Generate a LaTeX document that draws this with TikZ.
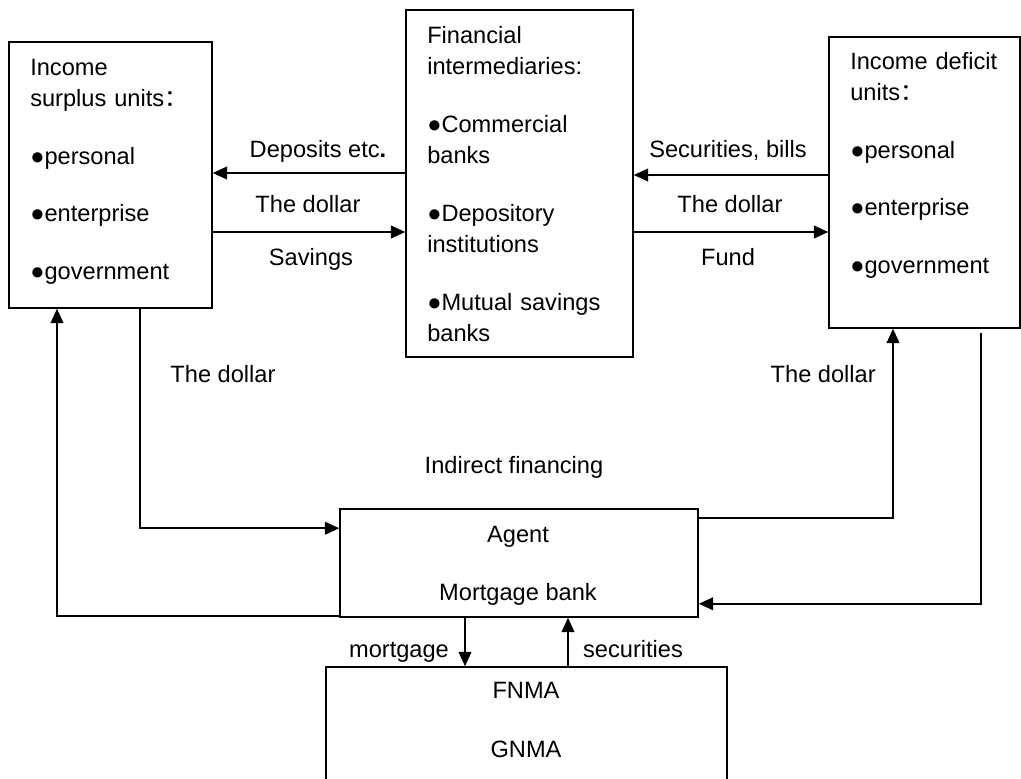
\documentclass[tikz,border=0pt]{standalone}
\usepackage{fontspec}
\setmainfont{Liberation Sans}
\newfontfamily\cjkfont{Noto Sans CJK SC}
\usetikzlibrary{arrows.meta}

\begin{document}
\begin{tikzpicture}[y=-1cm,
  box/.style={draw=black,line width=1.1pt,inner sep=0pt},
  blocktext/.style={anchor=base west,inner sep=0pt,text width=5cm,align=left,
    font=\fontsize{16.8}{22.3}\selectfont},
  lbl/.style={anchor=base,inner sep=0pt,font=\fontsize{16.8}{20}\selectfont},
  flow/.style={line width=1.1pt,-{Triangle[length=0.36cm,width=0.32cm]}}]

\useasboundingbox (0,0) rectangle (25.525,19.45);
\clip (0,0) rectangle (25.525,19.45);

% boxes:
\node[box,minimum width=5.075cm,minimum height=6.65cm] (surplus) at (2.7625,4.375) {};
\node[box,minimum width=5.675cm,minimum height=8.675cm] (inter) at (12.9875,4.5875) {};
\node[box,minimum width=4.775cm,minimum height=7.275cm] (deficit) at (23.1125,4.5625) {};
\node[box,minimum width=8.95cm,minimum height=2.7cm] (agent) at (12.975,14.075) {};
\node[box,minimum width=10.025cm,minimum height=4.325cm] (fnma) at (13.1625,18.8375) {};

% texts in the boxes:
\node[blocktext] (surplustext) at (0.75,1.875) {Income\\surplus units{\cjkfont ：}\\[18.8pt]●personal\\[18.8pt]●enterprise\\[18.8pt]●government};
\node[blocktext] (intertext) at (10.675,1.075) {Financial\\intermediaries:\\[18.8pt]●Commercial\\banks\\[18.8pt]●Depository\\institutions\\[18.8pt]●Mutual savings\\banks};
\node[blocktext] (deficittext) at (21.25,1.725) {Income deficit\\units{\cjkfont ：}\\[18.8pt]●personal\\[18.8pt]●enterprise\\[18.8pt]●government};
\node[lbl] (agenttext) at (12.95,13.55) {Agent};
\node[lbl] (banktext) at (12.95,15.0) {Mortgage bank};
\node[lbl] (fnmatext) at (13.15,17.45) {FNMA};
\node[lbl] (gnmatext) at (13.15,18.925) {GNMA};

% direct flows:
\draw[flow] (inter.west |- 0,4.325) -- (surplus.east |- 0,4.325);
\draw[flow] (surplus.east |- 0,5.8) -- (inter.west |- 0,5.8);
\draw[flow] (deficit.west |- 0,4.375) -- (inter.east |- 0,4.375);
\draw[flow] (inter.east |- 0,5.8) -- (deficit.west |- 0,5.8);
\node[lbl] (deposits) at (7.95,3.925) {Deposits etc\textbf{.}};
\node[lbl] (dollarul) at (7.7,5.3) {The dollar};
\node[lbl] (savings) at (7.775,6.625) {Savings};
\node[lbl] (bills) at (18.2,3.925) {Securities, bills};
\node[lbl] (dollarur) at (18.25,5.3) {The dollar};
\node[lbl] (fund) at (18.2,6.625) {Fund};

% indirect flows:
\draw[flow] ([xshift=0.7375cm]surplus.south) |- ([yshift=-0.5cm]agent.north west);
\draw[flow] ([yshift=0.05cm]agent.south west) -| ([xshift=-1.3375cm]surplus.south);
\draw[flow] ([yshift=-0.25cm]agent.north east) -| ([xshift=-0.7875cm]deficit.south);
\draw[flow] ([xshift=1.4125cm,yshift=-0.1cm]deficit.south) |- ([yshift=0.35cm]agent.south east);
\draw[flow] ([xshift=-1.35cm]agent.south) -- ([xshift=-1.5375cm]fnma.north);
\draw[flow] ([xshift=1.0375cm]fnma.north) -- ([xshift=1.225cm]agent.south);
\node[lbl] (dollarll) at (5.575,9.55) {The dollar};
\node[lbl] (dollarlr) at (20.58,9.55) {The dollar};
\node[lbl] (indirect) at (12.85,11.825) {Indirect financing};
\node[lbl] (mortgage) at (9.975,16.425) {mortgage};
\node[lbl] (securities) at (15.825,16.425) {securities};

\end{tikzpicture}
\end{document}
